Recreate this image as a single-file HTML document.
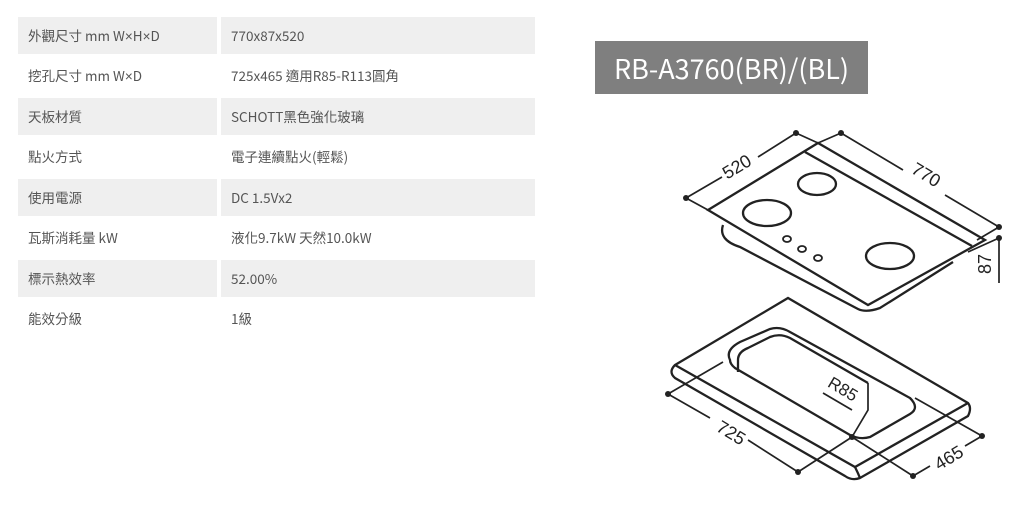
<!DOCTYPE html>
<html><head><meta charset="utf-8"><style>
body{margin:0;width:1033px;height:511px;background:#fff;position:relative;overflow:hidden;font-family:"Noto Sans CJK TC","Liberation Sans",sans-serif;}
.r{position:absolute;left:18px;height:37px;width:517px;}
.r div{position:absolute;top:0;height:37px;line-height:37px;font-size:13.5px;color:#555;}
.r .a{left:0;width:199px;padding-left:10px;box-sizing:border-box;}
.r .b{left:203px;width:314px;padding-left:10px;box-sizing:border-box;}
.s .a,.s .b{background:#efefef;}
.x{font-family:"Liberation Sans",sans-serif;}
.t{position:absolute;left:595px;top:41px;width:273px;height:53px;background:#7f7f7f;color:#fff;font-size:27px;line-height:53px;text-align:center;font-family:"Noto Sans CJK TC","Liberation Sans",sans-serif;font-weight:400;}
</style></head><body>
<div class="r s" style="top:17px"><div class="a">外觀尺寸 mm W<span class="x">×</span>H<span class="x">×</span>D</div><div class="b">770x87x520</div></div>
<div class="r" style="top:57px"><div class="a">挖孔尺寸 mm W<span class="x">×</span>D</div><div class="b">725x465 適用R85-R113圓角</div></div>
<div class="r s" style="top:98px"><div class="a">天板材質</div><div class="b">SCHOTT黑色強化玻璃</div></div>
<div class="r" style="top:138px"><div class="a">點火方式</div><div class="b">電子連續點火(輕鬆)</div></div>
<div class="r s" style="top:179px"><div class="a">使用電源</div><div class="b">DC 1.5Vx2</div></div>
<div class="r" style="top:219px"><div class="a">瓦斯消耗量 kW</div><div class="b">液化9.7kW 天然10.0kW</div></div>
<div class="r s" style="top:260px"><div class="a">標示熱效率</div><div class="b">52.00%</div></div>
<div class="r" style="top:300px"><div class="a">能效分級</div><div class="b">1級</div></div>
<div class="t">RB-A3760(BR)/(BL)</div>
<svg width="1033" height="511" style="position:absolute;left:0;top:0" fill="none" stroke="#222" stroke-width="2.3">
<path d="M708,210 L818,143 L985,240 L868,305 Z" fill="#fff"/>
<path d="M805,152 L972,246"/>
<path d="M723,225 Q718,240 740,247 L858,309 Q866,313 880,308 L953,262"/>
<ellipse cx="767" cy="213" rx="24" ry="13"/>
<ellipse cx="817" cy="184" rx="19" ry="11"/>
<ellipse cx="890" cy="256" rx="24" ry="13"/>
<ellipse cx="787" cy="239" rx="4" ry="3" stroke-width="1.8"/>
<ellipse cx="802" cy="249" rx="4" ry="3" stroke-width="1.8"/>
<ellipse cx="818" cy="258" rx="4" ry="3" stroke-width="1.8"/>
<path d="M686,198 L722,177 M758,157 L796,133 M686,198 L708,210 M796,133 L818,143" stroke-width="1.7"/>
<path d="M841,133 L903,170 M945,195 L999,227 M841,133 L818,143 M999,227 L977,240 M999,238 L968,252 M999,238 L999,283" stroke-width="1.7"/>
<g fill="#222" stroke="none"><circle cx="686" cy="198" r="3"/><circle cx="796" cy="133" r="3"/><circle cx="841" cy="133" r="3"/><circle cx="999" cy="227" r="3"/><circle cx="999" cy="238" r="3"/></g>
<path d="M675,365 L788,298 L968,403 Q972,408 968,416 L860,478 Q852,481 845,476 L675,378 Q668,372 675,365 Z" fill="#fff"/>
<path d="M675,365 L855,467 L968,403"/>
<path d="M855,467 Q858,473 860,478"/>
<path d="M730,360 Q725,350 740,342 L770,329 Q780,326 790,332 L910,398 Q920,408 910,414 L870,437 Q860,440 850,435 L735,368 Q730,364 730,360 Z"/>
<path d="M738,372 L738,360 Q738,352 748,348 L770,337 Q780,333 790,338 L868,383"/>
<path d="M868,383 L868,410 L852,437" stroke-width="1.7"/>
<path d="M823,393 L852,410" stroke-width="1.7"/>
<path d="M668,394 L710,418 M748,440 L798,472 M668,394 L723,362 M798,472 L852,437" stroke-width="1.7"/>
<path d="M982,436 L965,446 M930,466 L913,476 M913,476 L852,437 M982,436 L915,398" stroke-width="1.7"/>
<g fill="#222" stroke="none"><circle cx="668" cy="394" r="3"/><circle cx="798" cy="472" r="3"/><circle cx="852" cy="437" r="3"/><circle cx="982" cy="436" r="3"/><circle cx="913" cy="476" r="3"/></g>
<g fill="#222" stroke="none" font-size="18" font-family="Liberation Sans" text-anchor="middle">
<text x="740" y="172" transform="rotate(-31 740 172)">520</text>
<text x="923" y="180" transform="rotate(31 923 180)">770</text>
<text x="991" y="264" transform="rotate(-90 991 264)">87</text>
<text x="840" y="394" transform="rotate(31 840 394)" font-size="17">R85</text>
<text x="728" y="438" transform="rotate(31 728 438)">725</text>
<text x="952" y="463" transform="rotate(-31 952 463)">465</text>
</g>
</svg>
</body></html>
